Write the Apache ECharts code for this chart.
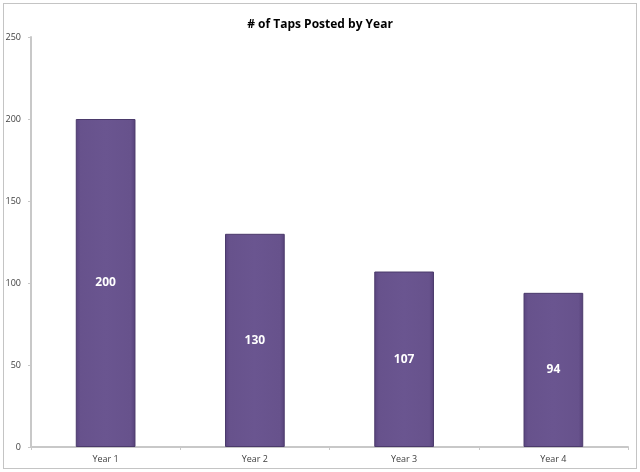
<!DOCTYPE html>
<html><head><meta charset="utf-8">
<script src="https://cdn.jsdelivr.net/npm/echarts@6/dist/echarts.min.js"></script>
<style>
html,body{margin:0;padding:0;background:#fff;}
#frame{position:absolute;left:3px;top:3px;width:632px;height:464px;border:1px solid #c4c4c4;}
#c{position:absolute;left:0;top:0;width:640px;height:472px;}
</style></head><body>
<div id="frame"></div>
<div id="c"></div>
<script>
var categories = ["Year 1", "Year 2", "Year 3", "Year 4"];
var values = [200, 130, 107, 94];
var yTicks = [0, 50, 100, 150, 200, 250];
var title = "# of Taps Posted by Year";

var chart = echarts.init(document.getElementById('c'));
chart.setOption({
  animation: false,
  title: {
    text: title, left: 'center', top: 14,
    textStyle: {fontFamily: 'Open Sans', fontSize: 12, fontWeight: 'bold', color: '#000'}
  },
  grid: {left: 31, right: 12, top: 37, bottom: 25, containLabel: false},
  xAxis: {
    type: 'category', data: categories,
    axisLine: {lineStyle: {color: '#c8c8c8', width: 2}},
    axisTick: {show: true, alignWithLabel: false, length: 3, lineStyle: {color: '#c8c8c8'}},
    axisLabel: {color: '#404040', fontSize: 9, fontFamily: 'Open Sans', margin: 8}
  },
  yAxis: {
    type: 'value', min: yTicks[0], max: yTicks[yTicks.length-1], interval: 50,
    axisLine: {show: true, lineStyle: {color: '#c8c8c8', width: 2}},
    axisTick: {show: true, length: 3, lineStyle: {color: '#c8c8c8'}},
    splitLine: {show: false},
    axisLabel: {color: '#404040', fontSize: 9, fontFamily: 'Open Sans', margin: 10}
  },
  series: [{
    type: 'bar', data: values, barWidth: '40%',
    itemStyle: {
      color: {type: 'linear', x: 0, y: 0, x2: 1, y2: 0, colorStops: [
        {offset: 0, color: '#5a4580'},
        {offset: 0.08, color: '#67528c'},
        {offset: 0.5, color: '#6a5590'},
        {offset: 0.92, color: '#67528c'},
        {offset: 1, color: '#56427a'}
      ]},
      borderColor: '#4b3a6b', borderWidth: 1
    },
    label: {
      show: true, position: 'inside', color: '#fff',
      fontSize: 12, fontWeight: 'bold', fontFamily: 'Open Sans'
    }
  }]
});
</script>
</body></html>
